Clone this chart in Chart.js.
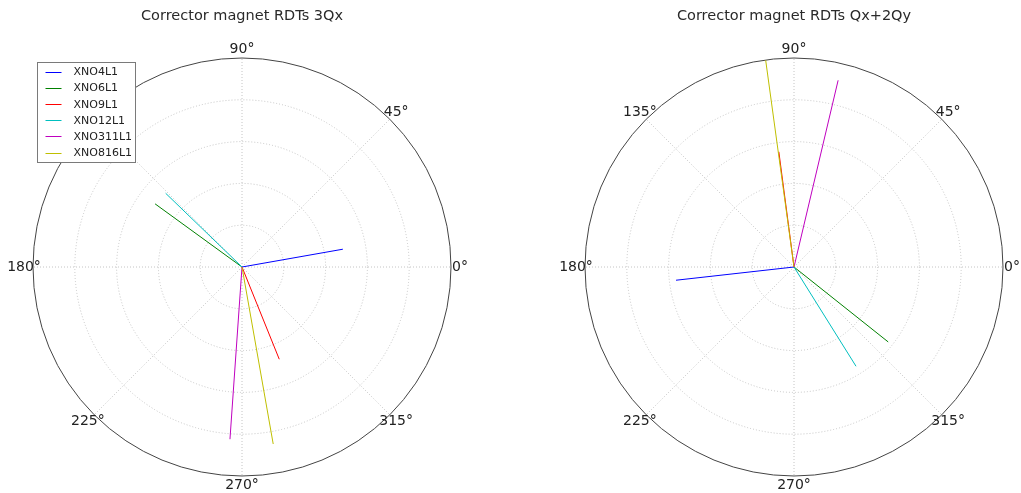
<!DOCTYPE html>
<html>
<head>
<meta charset="utf-8">
<script src="https://cdn.jsdelivr.net/npm/chart.js@4/dist/chart.umd.min.js"></script>
<style>
  html, body { margin: 0; padding: 0; background: #fff; }
  #wrap { position: relative; width: 1021px; height: 493px; overflow: hidden; }
  canvas { position: absolute; top: 0; }
  #c1 { left: 0; }
  #c2 { left: 510px; }
</style>
</head>
<body>
<div id="wrap">
  <canvas id="c1" width="510" height="493"></canvas>
  <canvas id="c2" width="511" height="493"></canvas>
</div>
<script>
// Corrector magnets and their line colours
const magnets = ['XNO4L1', 'XNO6L1', 'XNO9L1', 'XNO12L1', 'XNO311L1', 'XNO816L1'];
const colors = ['#0000ff', '#008000', '#ff0000', '#00bfbf', '#bf00bf', '#bfbf00'];

// RDT 3Qx: amplitude and phase (degrees)
const amp3Qx = [2.45, 2.57, 2.38, 2.54, 4.13, 4.30];
const phase3Qx = [10, 144, 292, 136, 266, 280];

// RDT Qx+2Qy: amplitude and phase (degrees)
const ampQx2Qy = [2.84, 2.88, 2.78, 2.80, 4.59, 4.99];
const phaseQx2Qy = [186.4, 321.5, 97.5, 302, 76.7, 97.8];

// Polar grid
const angleTicks = [0, 45, 90, 135, 180, 225, 270, 315];
const radialTicks = [1, 2, 3, 4, 5];
const rMax = 5;

const FONT = '"DejaVu Sans", "Liberation Sans", sans-serif';

// Polar frame: dotted rings and spokes, solid outer circle, angle labels
const polarGrid = {
  id: 'polarGrid',
  beforeDatasetsDraw(chart) {
    const xs = chart.scales.x, ys = chart.scales.y;
    const cx = xs.getPixelForValue(0), cy = ys.getPixelForValue(0);
    const unit = xs.getPixelForValue(1) - cx;
    const R = rMax * unit;
    const ctx = chart.ctx;
    ctx.save();
    ctx.strokeStyle = '#c4c4c4';
    ctx.lineWidth = 1;
    ctx.setLineDash([1, 2]);
    radialTicks.forEach(t => {
      if (t >= rMax) return;
      ctx.beginPath();
      ctx.arc(cx, cy, t * unit, 0, Math.PI * 2);
      ctx.stroke();
    });
    angleTicks.forEach(a => {
      const th = a * Math.PI / 180;
      ctx.beginPath();
      ctx.moveTo(cx, cy);
      ctx.lineTo(cx + R * Math.cos(th), cy - R * Math.sin(th));
      ctx.stroke();
    });
    ctx.setLineDash([]);
    ctx.strokeStyle = '#444';
    ctx.lineWidth = 1;
    ctx.beginPath();
    ctx.arc(cx, cy, R, 0, Math.PI * 2);
    ctx.stroke();

    ctx.fillStyle = '#222';
    ctx.font = '14px ' + FONT;
    ctx.textAlign = 'center';
    ctx.textBaseline = 'middle';
    angleTicks.forEach(a => {
      const th = a * Math.PI / 180;
      const d = R + 9;
      ctx.fillText(a + '\u00b0', cx + d * Math.cos(th), cy - d * Math.sin(th));
    });
    ctx.restore();
  }
};

// Framed legend in the upper-left corner of the plot area
const boxLegend = {
  id: 'boxLegend',
  afterDraw(chart, args, opts) {
    if (!opts.show) return;
    const ctx = chart.ctx;
    const a = chart.chartArea;
    const x0 = a.left + 4.5, y0 = a.top + 4.5, w = 98, h = 100;
    ctx.save();
    ctx.fillStyle = '#fff';
    ctx.fillRect(x0, y0, w, h);
    ctx.strokeStyle = '#7a7a7a';
    ctx.lineWidth = 1;
    ctx.strokeRect(x0, y0, w, h);
    ctx.font = '11px ' + FONT;
    ctx.textBaseline = 'middle';
    ctx.textAlign = 'left';
    chart.data.datasets.forEach((ds, i) => {
      const y = y0 + 9.5 + i * 16.1;
      ctx.strokeStyle = ds.borderColor;
      ctx.beginPath();
      ctx.moveTo(x0 + 8, Math.round(y) + 0.5);
      ctx.lineTo(x0 + 24, Math.round(y) + 0.5);
      ctx.stroke();
      ctx.fillStyle = '#222';
      ctx.fillText(ds.label, x0 + 36, y + 0.5);
    });
    ctx.restore();
  }
};

function makeDatasets(amps, phases) {
  return magnets.map((name, i) => {
    const th = phases[i] * Math.PI / 180;
    return {
      label: name,
      data: [{ x: 0, y: 0 }, { x: amps[i] * Math.cos(th), y: amps[i] * Math.sin(th) }],
      borderColor: colors[i],
      backgroundColor: colors[i],
      borderWidth: 1,
      showLine: true,
      pointRadius: 0,
      order: magnets.length - i
    };
  });
}

function makeChart(id, title, amps, phases, padL, padR, legend) {
  return new Chart(document.getElementById(id), {
    type: 'scatter',
    data: { datasets: makeDatasets(amps, phases) },
    options: {
      responsive: false,
      animation: false,
      layout: { padding: { left: padL, right: padR, top: 8, bottom: 17 } },
      scales: {
        x: { display: false, min: -rMax, max: rMax },
        y: { display: false, min: -rMax, max: rMax }
      },
      plugins: {
        legend: { display: false },
        tooltip: { enabled: false },
        title: {
          display: true,
          text: title,
          color: '#2a2a2a',
          font: { family: FONT, size: 14.5, weight: 'normal', lineHeight: 1.2 },
          padding: { top: 0, bottom: 32.6 }
        },
        boxLegend: { show: legend }
      }
    },
    plugins: [polarGrid, boxLegend]
  });
}

makeChart('c1', 'Corrector magnet RDTs 3Qx', amp3Qx, phase3Qx, 33, 59, true);
makeChart('c2', 'Corrector magnet RDTs Qx+2Qy', ampQx2Qy, phaseQx2Qy, 75, 18, false);
</script>
</body>
</html>
